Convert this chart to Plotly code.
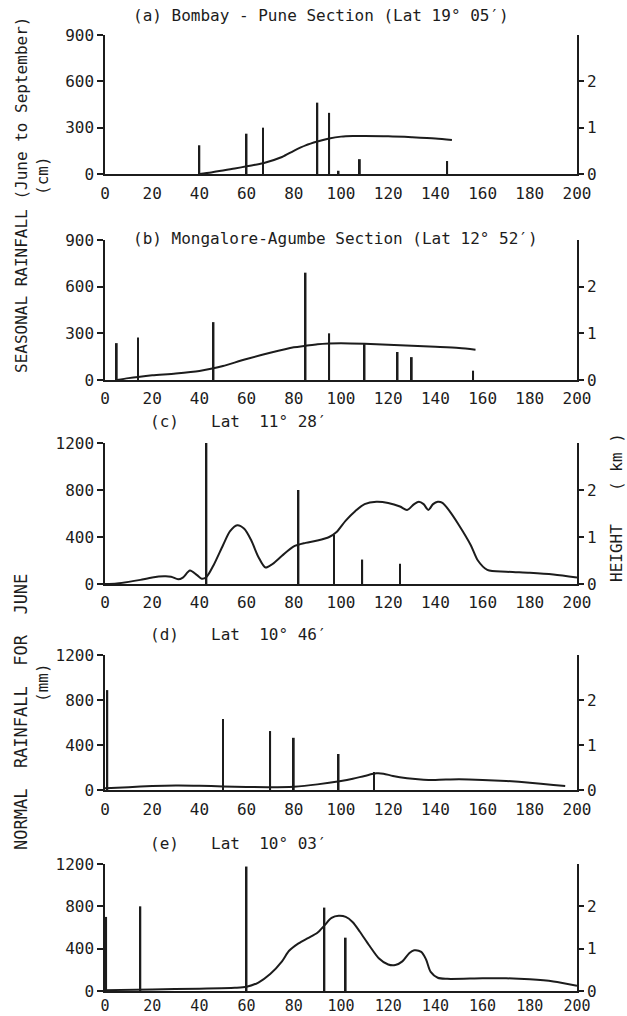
import plotly.graph_objects as go

# ---------------- data ----------------
x_tick_vals = [0, 20, 40, 60, 80, 100, 120, 140, 160, 180, 200]
x_tick_text = ["0", "20", "40", "60", "80", "100", "120", "140", "160", "180", "200"]
h_tick_vals = [0, 1, 2]
h_tick_text = ["0", "1", "2"]

# (a) Bombay - Pune : seasonal rainfall (cm) and station heights (km)
a_curve_x = [40, 45, 50, 55, 60, 67, 75, 80, 85, 90, 95, 100, 105, 110, 120, 130, 140, 147]
a_curve_y = [0, 10, 22, 35, 50, 70, 110, 150, 185, 210, 230, 242, 246, 246, 244, 238, 230, 220]
a_bar_x = [40, 60, 67, 90, 95, 99, 108, 145]
a_bar_h = [0.62, 0.87, 1.0, 1.54, 1.32, 0.07, 0.32, 0.28]

# (b) Mangalore - Agumbe
b_curve_x = [5, 10, 14, 20, 30, 40, 46, 50, 60, 70, 80, 85, 90, 95, 100, 110, 120, 130, 140, 150, 157]
b_curve_y = [0, 12, 20, 30, 42, 58, 75, 90, 135, 175, 210, 220, 230, 235, 237, 233, 226, 220, 213, 205, 195]
b_bar_x = [5, 14, 46, 85, 95, 110, 124, 130, 156]
b_bar_h = [0.79, 0.91, 1.24, 2.3, 1.0, 0.77, 0.6, 0.49, 0.2]

# (c) Lat 11 28 : June rainfall (mm)
c_curve_x = [0, 5, 10, 15, 20, 25, 28, 31, 33, 36, 39, 41, 43, 46, 50, 53, 56, 59, 62, 65, 68, 71,
             75, 80, 85, 90, 95, 98, 102, 106, 110, 115, 120, 125, 128, 131, 133, 135, 137, 139,
             141, 143, 146, 150, 155, 158, 162, 170, 180, 190, 200]
c_curve_y = [0, 5, 18, 35, 55, 65, 62, 40, 55, 115, 75, 45, 60, 160, 330, 450, 500, 470, 370, 230, 140, 170,
             240, 320, 350, 370, 400, 440, 540, 620, 680, 700, 690, 660, 630, 680, 700, 680, 630, 680,
             700, 690, 620, 500, 330, 200, 120, 105, 95, 80, 55]
c_bar_x = [43, 82, 97, 109, 125]
c_bar_h = [3.15, 2.0, 1.05, 0.52, 0.43]

# (d) Lat 10 46
d_curve_x = [0, 10, 20, 30, 40, 50, 60, 70, 80, 90, 100, 105, 110, 115, 118, 122, 128, 135, 140,
             150, 160, 170, 180, 190, 195]
d_curve_y = [15, 25, 35, 40, 38, 32, 27, 25, 30, 50, 80, 100, 125, 148, 145, 125, 105, 92, 90,
             95, 90, 80, 65, 45, 35]
d_bar_x = [1, 50, 70, 80, 99, 114]
d_bar_h = [2.22, 1.58, 1.31, 1.16, 0.8, 0.4]

# (e) Lat 10 03
e_curve_x = [0, 20, 40, 55, 60, 65, 70, 75, 78, 82, 86, 90, 93, 96, 99, 102, 105, 108, 112, 116,
             120, 123, 126, 129, 131, 134, 136, 138, 141, 145, 160, 170, 180, 190, 200]
e_curve_y = [8, 15, 22, 30, 40, 80, 160, 280, 380, 450, 500, 550, 620, 690, 710, 700, 650, 560, 430, 310,
             250, 245, 280, 360, 385, 370, 300, 180, 125, 115, 120, 120, 110, 90, 50]
e_bar_x = [0.5, 15, 60, 93, 102]
e_bar_h = [1.75, 2.0, 2.94, 1.97, 1.26]

titles = [
    "(a) Bombay - Pune Section (Lat 19° 05′)",
    "(b) Mongalore-Agumbe Section (Lat 12° 52′)",
    "(c)",
    "(d)",
    "(e)",
]
lat_titles = [None, None, "Lat  11° 28′", "Lat  10° 46′", "Lat  10° 03′"]

# ---------------- layout helpers ----------------
W, H = 627, 1016
FONT = "DejaVu Sans Mono"
INK = "#1c1c1c"


def fx(px):
    return px / W


def fy(py):
    return 1 - py / H


X_LEFT, X_RIGHT = 105, 577
panels = [
    dict(cx=a_curve_x, cy=a_curve_y, bx=a_bar_x, bh=a_bar_h, ymax=900, yt=[0, 300, 600, 900], top=35, bottom=174, so=4),
    dict(cx=b_curve_x, cy=b_curve_y, bx=b_bar_x, bh=b_bar_h, ymax=900, yt=[0, 300, 600, 900], top=240, bottom=380, so=3),
    dict(cx=c_curve_x, cy=c_curve_y, bx=c_bar_x, bh=c_bar_h, ymax=1200, yt=[0, 400, 800, 1200], top=443, bottom=584, so=3),
    dict(cx=d_curve_x, cy=d_curve_y, bx=d_bar_x, bh=d_bar_h, ymax=1200, yt=[0, 400, 800, 1200], top=655, bottom=790, so=4),
    dict(cx=e_curve_x, cy=e_curve_y, bx=e_bar_x, bh=e_bar_h, ymax=1200, yt=[0, 400, 800, 1200], top=864, bottom=991, so=0),
]

fig = go.Figure()
layout = {}
tickfont = dict(family=FONT, size=16, color=INK)

for i, p in enumerate(panels, start=1):
    xa = "x" if i == 1 else f"x{i}"
    yl_n, yr_n = 2 * i - 1, 2 * i
    yl = "y" if yl_n == 1 else f"y{yl_n}"
    yr = f"y{yr_n}"

    fig.add_trace(go.Scatter(
        x=p["cx"], y=p["cy"], xaxis=xa, yaxis=yl, mode="lines",
        line=dict(color=INK, width=2, shape="spline", smoothing=0.8),
        hoverinfo="skip", showlegend=False))
    fig.add_trace(go.Bar(
        x=p["bx"], y=p["bh"], xaxis=xa, yaxis=yr, width=0.75,
        marker=dict(color=INK, line=dict(width=0)), cliponaxis=False,
        hoverinfo="skip", showlegend=False))

    dom = [fy(p["bottom"]), fy(p["top"])]
    xfont = dict(tickfont)
    if i == 5:
        xfont["size"] = 15
    layout["xaxis" if i == 1 else f"xaxis{i}"] = dict(
        domain=[fx(X_LEFT), fx(X_RIGHT)], range=[0, 200], anchor=yl,
        tickvals=x_tick_vals, ticktext=x_tick_text, tickfont=xfont,
        showline=True, linecolor=INK, linewidth=1.5, ticks="", ticklabelstandoff=p["so"],
        showgrid=False, zeroline=False, fixedrange=True)
    layout["yaxis" if yl_n == 1 else f"yaxis{yl_n}"] = dict(
        domain=dom, range=[0, p["ymax"]], anchor=xa,
        tickvals=p["yt"], ticktext=[str(v) for v in p["yt"]], tickfont=tickfont,
        showline=True, linecolor=INK, linewidth=1.5, ticks="outside", ticklen=6,
        tickwidth=1.5, tickcolor=INK, showgrid=False, zeroline=False, fixedrange=True)
    layout[f"yaxis{yr_n}"] = dict(
        overlaying=yl, side="right", range=[0, 3], anchor=xa,
        tickvals=h_tick_vals, ticktext=h_tick_text, tickfont=tickfont,
        showline=True, linecolor=INK, linewidth=1.5, ticks="outside", ticklen=5,
        tickwidth=1.5, tickcolor=INK, showgrid=False, zeroline=False, fixedrange=True)

annotations = []
title_font = dict(family=FONT, size=16, color=INK)
# panel titles
annotations.append(dict(text=titles[0], x=fx(131), y=fy(16), xref="paper", yref="paper",
                        showarrow=False, font=title_font, xanchor="left", yanchor="middle"))
annotations.append(dict(text=titles[1], x=fx(131), y=fy(238), xref="paper", yref="paper",
                        showarrow=False, font=title_font, xanchor="left", yanchor="middle",
                        bgcolor="white"))
for k, ty in zip([2, 3, 4], [422, 634, 843]):
    annotations.append(dict(text=titles[k], x=fx(164), y=fy(ty), xref="paper", yref="paper",
                            showarrow=False, font=title_font, xanchor="center", yanchor="middle"))
    annotations.append(dict(text=lat_titles[k], x=fx(209), y=fy(ty), xref="paper", yref="paper",
                            showarrow=False, font=title_font, xanchor="left", yanchor="middle"))

axis_title_font = dict(family=FONT, size=16, color=INK)
annotations += [
    dict(text="SEASONAL RAINFALL (June to September)", x=fx(21), y=fy(195), textangle=-90,
         xref="paper", yref="paper", showarrow=False, font=axis_title_font,
         xanchor="center", yanchor="middle"),
    dict(text="(cm)", x=fx(42), y=fy(176), textangle=-90,
         xref="paper", yref="paper", showarrow=False, font=axis_title_font,
         xanchor="center", yanchor="middle"),
    dict(text="NORMAL  RAINFALL  FOR  JUNE", x=fx(21), y=fy(712), textangle=-90,
         xref="paper", yref="paper", showarrow=False, font=dict(family=FONT, size=17, color=INK),
         xanchor="center", yanchor="middle"),
    dict(text="(mm)", x=fx(42), y=fy(683), textangle=-90,
         xref="paper", yref="paper", showarrow=False, font=axis_title_font,
         xanchor="center", yanchor="middle"),
    dict(text="HEIGHT", x=fx(616), y=fy(553), textangle=-90,
         xref="paper", yref="paper", showarrow=False, font=axis_title_font,
         xanchor="center", yanchor="middle"),
    dict(text="( km )", x=fx(616), y=fy(462), textangle=-90,
         xref="paper", yref="paper", showarrow=False, font=axis_title_font,
         xanchor="center", yanchor="middle"),
]

fig.update_layout(
    **layout,
    annotations=annotations,
    width=W, height=H,
    margin=dict(l=0, r=0, t=0, b=0),
    paper_bgcolor="white", plot_bgcolor="white",
    template="none", showlegend=False, barmode="overlay",
)

fig.write_html("out.html", config={"displayModeBar": False})
